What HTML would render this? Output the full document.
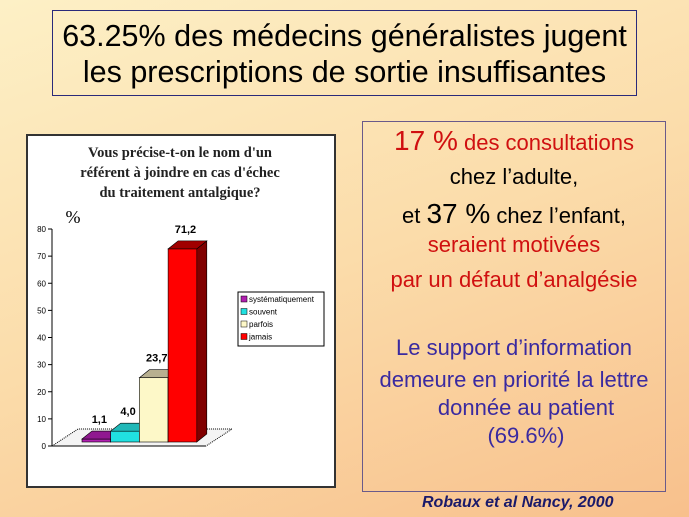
<!DOCTYPE html>
<html><head><meta charset="utf-8"><style>
body{margin:0;width:689px;height:517px;overflow:hidden;font-family:"Liberation Sans",sans-serif;
background:linear-gradient(160deg,#fdf0c6 0%,#fbdcaa 50%,#f8c08c 100%);position:relative}
.abs{position:absolute}
#title{left:52px;top:10px;width:585px;height:86px;border:1px solid #2a2a7a;text-align:center;font-size:30.5px;line-height:36px;color:#000;box-sizing:border-box;padding-top:7px;white-space:nowrap}
#panel{left:362px;top:121px;width:304px;height:371px;border:1px solid #6a5a8a;box-sizing:border-box}
.l{position:absolute;left:362px;width:304px;text-align:center;font-size:22px;white-space:nowrap}
.r{color:#d01010}.k{color:#000}.b{color:#3a2aa0}
</style></head><body>
<div id="title" class="abs">63.25% des médecins généralistes jugent<br>les prescriptions de sortie insuffisantes</div>
<div id="panel" class="abs"></div>
<div class="l r" style="top:125px"><span style="font-size:28px">17 %</span> des consultations</div>
<div class="l k" style="top:164px">chez l’adulte,</div>
<div class="l k" style="top:198px">et <span style="font-size:28px">37 %</span> chez l’enfant,</div>
<div class="l r" style="top:232px">seraient motivées</div>
<div class="l r" style="top:267px">par un défaut d’analgésie</div>
<div class="l b" style="top:335px">Le support d’information</div>
<div class="l b" style="top:367px">demeure en priorité la lettre</div>
<div class="l b" style="top:395px;left:374px">donnée au patient</div>
<div class="l b" style="top:423px;left:374px">(69.6%)</div>
<div class="abs" style="left:422px;top:494px;font-size:16px;font-weight:bold;font-style:italic;color:#1a1a6a">Robaux et al Nancy, 2000</div>

<svg class="abs" style="left:0;top:0" width="689" height="517">
<rect x="27" y="135" width="308" height="352" fill="#fff" stroke="#333" stroke-width="2"/>
<g font-family="Liberation Serif,serif" font-weight="bold" font-size="14.5" text-anchor="middle" fill="#222">
<text x="180" y="157">Vous précise-t-on le nom d'un</text>
<text x="180" y="177">référent à joindre en cas d'échec</text>
<text x="180" y="197">du traitement antalgique?</text>
</g>
<text x="73" y="223" font-family="Liberation Serif,serif" font-size="18" text-anchor="middle">%</text>
<g id="axes"></g><g id="bars"></g>
<g id="legend">
<rect x="238" y="292" width="86" height="54" fill="#fff" stroke="#000"/>
</g>
</svg>
<script>
const categories=["systématiquement","souvent","parfois","jamais"];
const values=[1.1,4.0,23.7,71.2];
const labels=["1,1","4,0","23,7","71,2"];
const yTicks=[0,10,20,30,40,50,60,70,80];
const colors=[["#b020b0","#801080","#901890"],["#20e0e0","#18a0a0","#20b8b8"],["#fdf8c8","#c8c0a0","#b8b090"],["#ff0000","#800000","#a00000"]];
const NS="http://www.w3.org/2000/svg";
const y0=446,yTop=229,vmax=80;
function yScale(v){return y0-(v/vmax)*(y0-yTop);}
function xScale(i){return 82+i*28.7;}
function mk(t,a,p){const e=document.createElementNS(NS,t);for(const k in a)e.setAttribute(k,a[k]);p.appendChild(e);return e;}
const ax=document.getElementById('axes');
mk('line',{x1:52,y1:y0,x2:52,y2:yTop,stroke:'#000'},ax);
mk('polygon',{points:`52,${y0} 78,${y0-17} 232,${y0-17} 206,${y0}`,fill:'#f4f4f4',stroke:'#000','stroke-dasharray':'1,1'},ax);
mk('line',{x1:52,y1:y0,x2:206,y2:y0,stroke:'#000'},ax);
yTicks.forEach(t=>{const y=yScale(t);
const l=mk('line',{x1:48,y1:y,x2:52,y2:y,stroke:'#000'},ax);


const tx=mk('text',{x:46,y:y+3,'font-size':8,'text-anchor':'end','font-family':'Liberation Sans'},ax);tx.textContent=t;

});
const bg=document.getElementById('bars');const dx=10,dy=8,w=28.7,base=442;
values.forEach((v,i)=>{const x=xScale(i),h=(v/vmax)*(y0-yTop),yt=base-h;const c=colors[i];
const g=mk('g',{},bg);


mk('rect',{x:x,y:yt,width:w,height:h,fill:c[0],stroke:'#000','stroke-width':0.6},g);
mk('polygon',{points:`${x+w},${yt} ${x+w+dx},${yt-dy} ${x+w+dx},${base-dy} ${x+w},${base}`,fill:c[1],stroke:'#000','stroke-width':0.6},g);
mk('polygon',{points:`${x},${yt} ${x+dx},${yt-dy} ${x+w+dx},${yt-dy} ${x+w},${yt}`,fill:c[2],stroke:'#000','stroke-width':0.6},g);
const t=mk('text',{x:x+w/2+3,y:yt-dy-8,'font-size':11,'font-weight':'bold','text-anchor':'middle','font-family':'Liberation Sans'},bg);t.textContent=labels[i];

});
const lg=document.getElementById('legend');
categories.forEach((c,i)=>{const y=296+i*12.5;
const r=mk('rect',{x:241,y:y,width:6,height:6,fill:colors[i][0],stroke:'#000','stroke-width':0.5},lg);


const t=mk('text',{x:249,y:y+6,'font-size':8,'font-family':'Liberation Sans'},lg);t.textContent=c;

});
</script>
</body></html>
